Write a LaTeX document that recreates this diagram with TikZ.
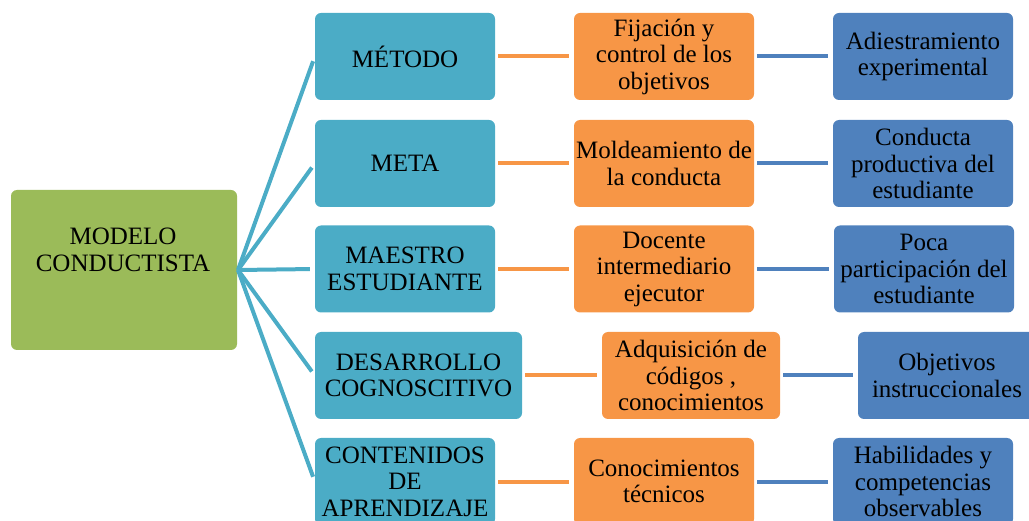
\documentclass[tikz,border=0pt]{standalone}
\usepackage{fontspec}
\setmainfont{Liberation Serif}
\definecolor{cgreen}{HTML}{9BBB59}
\definecolor{cteal}{HTML}{4BACC6}
\definecolor{corange}{HTML}{F79646}
\definecolor{cblue}{HTML}{4F81BD}
\tikzset{
  box/.style={rounded corners=6pt, inner sep=0pt, minimum height=87pt, align=center,
    font=\fontsize{25}{26.5}\selectfont, text=black},
  rootbox/.style={box, fill=cgreen, minimum width=226pt, minimum height=160pt},
  tealbox/.style={box, fill=cteal, minimum width=180pt},
  orangebox/.style={box, fill=corange, minimum width=180pt},
  bluebox/.style={box, fill=cblue, minimum width=180pt},
  fanline/.style={draw=cteal, line width=4pt},
  oline/.style={draw=corange, line width=4pt, shorten <=3pt, shorten >=5pt},
  bline/.style={draw=cblue, line width=4pt, shorten <=3pt, shorten >=5pt},
  lbl/.style={align=center, inner sep=0pt, font=\fontsize{25}{26.5}\selectfont}
}
\begin{document}
\begin{tikzpicture}[x=1pt,y=-1pt]
\useasboundingbox (0,0) rectangle (1029,521);
\clip (0,0) rectangle (1029,521);
% root
\node[rootbox] (root) at (124,270) {};
\node[lbl] (rootlabel) at (123,250) {MODELO\\CONDUCTISTA};
% column 1
\node[tealbox] (t1) at (405,56.5) {MÉTODO};
\node[tealbox] (t2) at (405,163.5) {META};
\node[tealbox] (t3) at (405,269) {MAESTRO\\ESTUDIANTE};
\node[tealbox, minimum width=207pt] (t4) at (418.5,375.5) {DESARROLLO\\COGNOSCITIVO};
\node[tealbox] (t5) at (405,481.5) {CONTENIDOS\\DE\\APRENDIZAJE};
% column 2
\node[orangebox] (o1) at (664,56.5) {Fijación y\\control de los\\objetivos};
\node[orangebox] (o2) at (664,163.5) {Moldeamiento de\\la conducta};
\node[orangebox] (o3) at (664,269) {Docente\\intermediario\\ejecutor};
\node[orangebox, minimum width=178pt] (o4) at (691,375.5) {Adquisición de\\códigos ,\\conocimientos};
\node[orangebox] (o5) at (664,481.5) {Conocimientos\\técnicos};
% column 3
\node[bluebox] (b1) at (923,56.5) {Adiestramiento\\experimental};
\node[bluebox] (b2) at (923,163.5) {Conducta\\productiva del\\estudiante};
\node[bluebox] (b3) at (924,269) {Poca\\participación del\\estudiante};
\node[bluebox, minimum width=178pt] (b4) at (947,375.5) {Objetivos\\instruccionales};
\node[bluebox] (b5) at (923,481.5) {Habilidades y\\competencias\\observables};
% fan connectors
\coordinate (hub) at (238,270);
\foreach \i in {1,...,5} {
  \draw[fanline, shorten >=5pt] (hub) -- (t\i.west);
}
% row connectors
\foreach \i in {1,...,5} {
  \draw[oline] (t\i) -- (o\i);
  \draw[bline] (o\i) -- (b\i);
}
\end{tikzpicture}
\end{document}
